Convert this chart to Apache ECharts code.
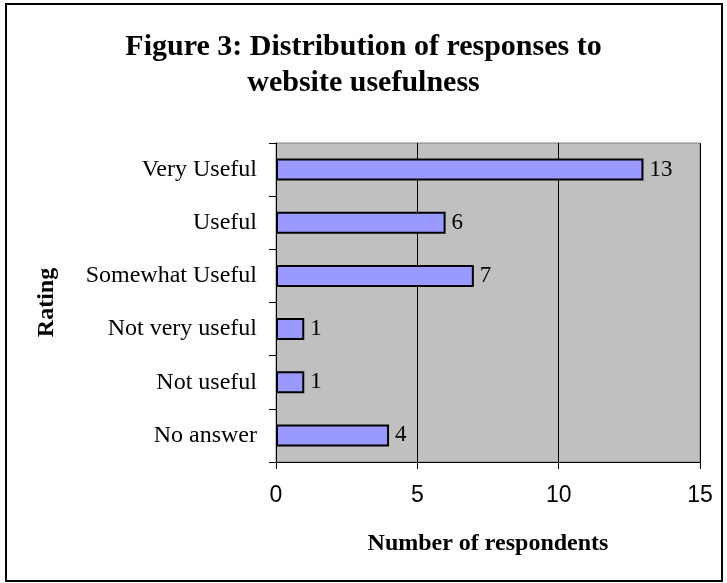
<!DOCTYPE html>
<html>
<head>
<meta charset="utf-8">
<script src="https://cdn.jsdelivr.net/npm/echarts@6/dist/echarts.min.js"></script>
<style>
html,body{margin:0;padding:0;background:#fff;}
#c{width:727px;height:583px;}
</style>
</head>
<body>
<div id="c"></div>
<script>
const categories = ["Very Useful", "Useful", "Somewhat Useful", "Not very useful", "Not useful", "No answer"];
const respondents = [13, 6, 7, 1, 1, 4];
const xTicks = [0, 5, 10, 15];

const chart = echarts.init(document.getElementById('c'));
chart.setOption({
  animation: false,
  backgroundColor: '#ffffff',
  title: {
    text: 'Figure 3: Distribution of responses to\nwebsite usefulness',
    left: 'center',
    top: 24,
    textStyle: {
      fontFamily: 'Liberation Serif',
      fontWeight: 'bold',
      fontSize: 30,
      lineHeight: 36,
      color: '#000'
    }
  },
  graphic: [{
    type: 'rect',
    shape: { x: 6, y: 4, width: 716, height: 577 },
    style: { fill: 'none', stroke: '#000', lineWidth: 2 },
    silent: true
  }],
  grid: {
    left: 276, right: 27, top: 143, bottom: 121,
    show: true,
    backgroundColor: '#C0C0C0',
    borderColor: '#808080',
    borderWidth: 1
  },
  xAxis: {
    type: 'value',
    min: xTicks[0],
    max: xTicks[xTicks.length - 1],
    interval: 5,
    name: 'Number of respondents',
    nameLocation: 'middle',
    nameGap: 70,
    nameTextStyle: {
      fontFamily: 'Liberation Serif',
      fontWeight: 'bold',
      fontSize: 24,
      color: '#000'
    },
    axisLine: { show: true, lineStyle: { color: '#000', width: 1 } },
    axisTick: { show: true, length: 7, lineStyle: { color: '#000' } },
    axisLabel: {
      margin: 22,
      fontFamily: 'Liberation Sans',
      fontSize: 23,
      color: '#000'
    },
    splitLine: { show: true, lineStyle: { color: '#000', width: 1 } }
  },
  yAxis: {
    type: 'category',
    data: categories,
    inverse: true,
    name: 'Rating',
    nameLocation: 'middle',
    nameRotate: 90,
    nameGap: 217,
    nameTextStyle: {
      fontFamily: 'Liberation Serif',
      fontWeight: 'bold',
      fontSize: 24,
      color: '#000'
    },
    axisLine: { show: true, lineStyle: { color: '#000', width: 1 } },
    axisTick: { show: true, length: 7, alignWithLabel: false, lineStyle: { color: '#000' } },
    axisLabel: {
      margin: 19,
      fontFamily: 'Liberation Serif',
      fontSize: 24,
      color: '#000'
    },
    splitLine: { show: false }
  },
  series: [{
    type: 'bar',
    data: respondents,
    barWidth: 22,
    itemStyle: { color: '#9999FF', borderColor: '#000', borderWidth: 2 },
    label: {
      show: true,
      position: 'right',
      distance: 6,
      fontFamily: 'Liberation Serif',
      fontSize: 23,
      color: '#000'
    }
  }]
});
</script>
</body>
</html>
